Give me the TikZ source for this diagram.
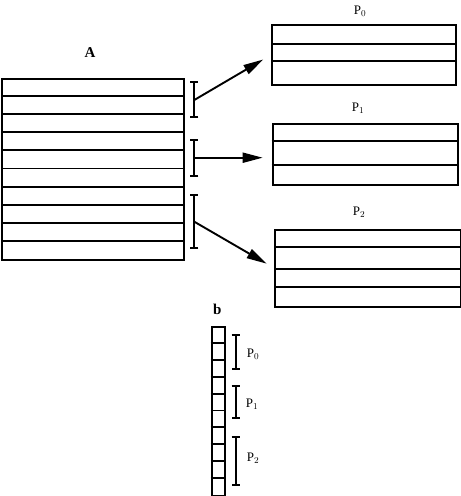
\documentclass[tikz,border=0pt]{standalone}
\usepackage{fontspec}
\setmainfont{Liberation Serif}
\usetikzlibrary{arrows.meta}
\begin{document}
\begin{tikzpicture}[x=1pt,y=-1pt,
  lw/.style={line width=1.9pt},
  box/.style={draw,lw,inner sep=0pt,anchor=north west},
  brk/.style={lw,{Bar[width=8pt]}-{Bar[width=8pt]}},
  arr/.style={lw,-{Triangle[length=20pt,width=10pt]},shorten >=9pt},
  plab/.style={font=\fontsize{13}{13}\selectfont,inner sep=0pt},
  big/.style={font=\fontsize{15}{15}\selectfont\bfseries,inner sep=0pt}]
\useasboundingbox (0,0) rectangle (461,496);
% matrix A
\node[box,minimum width=182pt,minimum height=181.6pt] (A) at (1,77.7) {};
\foreach \i in {1,...,9} \draw[lw] (A.west |- 0,{77.7+18.16*\i}) -- (A.east |- 0,{77.7+18.16*\i});
\node[big] (Alab) at (90,53) {A};
% boxes
\node[box,minimum width=184pt,minimum height=60pt] (P0) at (271,24) {};
\foreach \y in {43.7,61} \draw[lw] (P0.west |- 0,\y) -- (P0.east |- 0,\y);
\node[plab] (P0lab) at (360,11) {P$_0$};
\node[box,minimum width=185pt,minimum height=61.6pt] (P1) at (271.7,122.7) {};
\foreach \y in {140.7,164.7} \draw[lw] (P1.west |- 0,\y) -- (P1.east |- 0,\y);
\node[plab] (P1lab) at (358,108) {P$_1$};
\node[box,minimum width=186pt,minimum height=77pt] (P2) at (274.3,228.7) {};
\foreach \y in {247,268.7,287.3} \draw[lw] (P2.west |- 0,\y) -- (P2.east |- 0,\y);
\node[plab] (P2lab) at (359,212) {P$_2$};
% brackets beside A
\coordinate (a1t) at (194.3,81);   \coordinate (a1b) at (194.3,118.3);
\coordinate (a2t) at (194.3,138.7); \coordinate (a2b) at (194.3,176.7);
\coordinate (a3t) at (194.3,194);  \coordinate (a3b) at (194.3,249.3);
\draw[brk] (a1t) -- (a1b);
\draw[brk] (a2t) -- (a2b);
\draw[brk] (a3t) -- (a3b);
\coordinate (m1) at (194.3,100);
\coordinate (m2) at (194.3,157.7);
\coordinate (m3) at (194.3,221.7);
\draw[arr] (m1) -- (P0.west);
\draw[arr] (m2) -- (P1.west |- m2);
\draw[arr] (m3) -- (P2.west);
% array b
\node[box,minimum width=13.6pt,minimum height=169pt] (B) at (210.7,326) {};
\foreach \i in {1,...,9} \draw[lw] (B.west |- 0,{326+16.9*\i}) -- (B.east |- 0,{326+16.9*\i});
\node[big] (blab) at (217.3,309) {b};
\coordinate (b1t) at (235.7,333.7); \coordinate (b1b) at (235.7,370);
\coordinate (b2t) at (235.7,385);   \coordinate (b2b) at (235.7,418.7);
\coordinate (b3t) at (235.7,436);   \coordinate (b3b) at (235.7,486);
\draw[brk] (b1t) -- (b1b);
\draw[brk] (b2t) -- (b2b);
\draw[brk] (b3t) -- (b3b);
\node[plab] (q0) at (253,354) {P$_0$};
\node[plab] (q1) at (252,404) {P$_1$};
\node[plab] (q2) at (253,458) {P$_2$};
\end{tikzpicture}
\end{document}
